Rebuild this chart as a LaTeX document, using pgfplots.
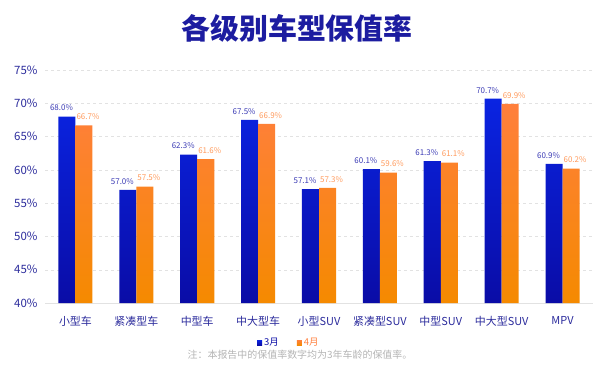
\documentclass[border=0pt]{standalone}
\usepackage{fontspec}
\setmainfont{Noto Sans CJK SC}
\usepackage{pgfplots}
\pgfplotsset{compat=1.18}
\definecolor{titleblue}{HTML}{1C1CA0}
\definecolor{ticknavy}{HTML}{2B2B9C}
\definecolor{bluetop}{HTML}{0A24E2}
\definecolor{bluebot}{HTML}{0A0CA6}
\definecolor{orangetop}{HTML}{FF7F3C}
\definecolor{orangebot}{HTML}{F58A00}
\definecolor{bluelab}{HTML}{3A3AB4}
\definecolor{orangelab}{HTML}{FF9A5C}
\definecolor{gridgray}{HTML}{E2E2E2}
\definecolor{notegray}{HTML}{B4B4B4}
\begin{document}
\begin{tikzpicture}[x=1bp,y=1bp]
\path[use as bounding box] (0,0) rectangle (600,368);
\node[font=\fontsize{29}{32}\selectfont\bfseries, text=titleblue] at (297,340) {各级别车型保值率};
\begin{axis}[
  at={(45bp,65bp)}, anchor=south west, scale only axis,
  width=548bp, height=233bp,
  xmin=-0.5, xmax=8.5, ymin=40, ymax=75,
  ytick={40,45,...,75},
  yticklabel={\pgfmathprintnumber{\tick}\%},
  xtick={0,...,8},
  xticklabels={小型车,紧凑型车,中型车,中大型车,小型SUV,紧凑型SUV,中型SUV,中大型SUV,MPV},
  /pgf/number format/assume math mode=true,
  tick style={draw=none},
  axis line style={draw=none},
  ymajorgrids, grid style={gridgray, dashed},
  yticklabel style={font=\fontsize{11.5}{12}\selectfont, text=ticknavy, xshift=-4bp},
  xticklabel style={font=\fontsize{11}{12}\selectfont, text=ticknavy, yshift=-10bp},
  clip=false,
  legend style={at={(rel axis cs:0.445,-0.17)}, anchor=center, draw=none, fill=none,
    legend columns=2, font=\fontsize{9.5}{10}\selectfont,
    /tikz/every even column/.append style={column sep=16bp}},
  legend cell align=left,
]
\draw[color=gridgray, line width=0.8bp] (rel axis cs:0,0) -- (rel axis cs:1,0);
\addplot[ybar, bar width=0.28, bar shift=-0.14, draw=none, top color=bluetop, bottom color=bluebot,
  nodes near coords={\pgfmathprintnumber[fixed,fixed zerofill,precision=1]{\pgfplotspointmeta}\%},
  every node near coord/.append style={font=\fontsize{8}{9}\selectfont, text=bluelab, xshift=-14bp, yshift=2bp},
  legend image code/.code={\fill[bluebot] (0bp,-2.5bp) rectangle (5bp,2.5bp);}]
 coordinates {(0,68.0) (1,57.0) (2,62.3) (3,67.5) (4,57.1) (5,60.1) (6,61.3) (7,70.7) (8,60.9)};
\addlegendentry{\textcolor{bluebot}{3月}}
\addplot[ybar, bar width=0.28, bar shift=0.14, draw=none, top color=orangetop, bottom color=orangebot,
  nodes near coords={\pgfmathprintnumber[fixed,fixed zerofill,precision=1]{\pgfplotspointmeta}\%},
  every node near coord/.append style={font=\fontsize{8}{9}\selectfont, text=orangelab, xshift=12.5bp, yshift=2bp},
  legend image code/.code={\fill[orangetop] (0bp,-2.5bp) rectangle (5bp,2.5bp);}]
 coordinates {(0,66.7) (1,57.5) (2,61.6) (3,66.9) (4,57.3) (5,59.6) (6,61.1) (7,69.9) (8,60.2)};
\addlegendentry{\textcolor{orangetop}{4月}}
\end{axis}
\node[font=\fontsize{10}{11}\selectfont, text=notegray] at (300,13) {注：本报告中的保值率数字均为3年车龄的保值率。};
\end{tikzpicture}
\end{document}
